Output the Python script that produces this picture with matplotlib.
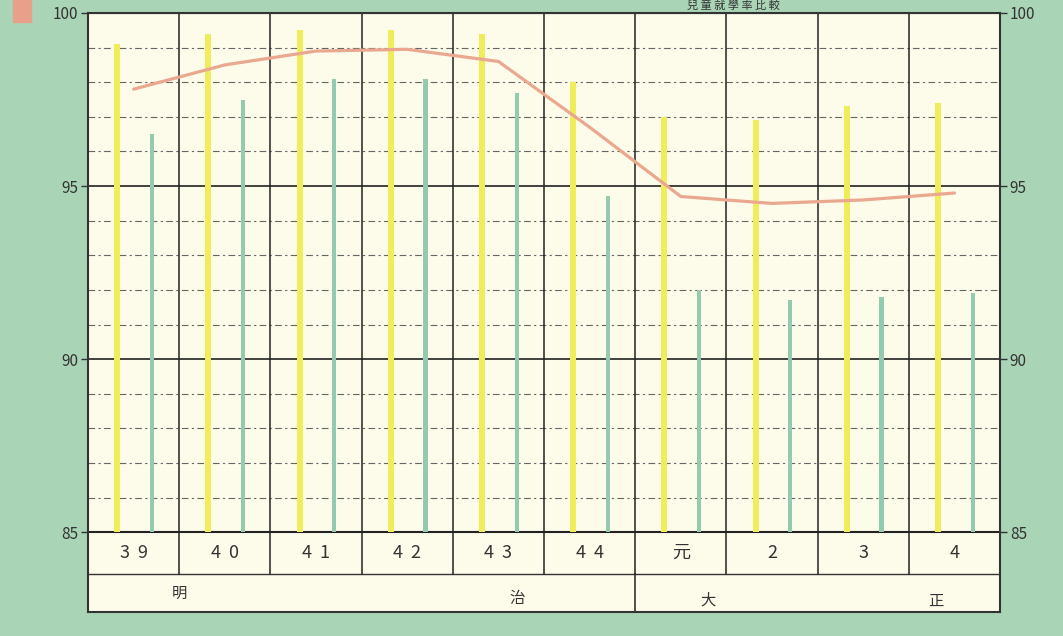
import numpy as np
import matplotlib.pyplot as plt
from matplotlib.patches import Rectangle

plt.rcParams['font.family'] = ['Noto Sans CJK JP', 'DejaVu Sans']

# 年次 (明治39-44, 大正元-4)
years = ['3  9', '4  0', '4  1', '4  2', '4  3', '4  4', '元', '2', '3', '4']
eras = ['明', '治', '大', '正']
# 黄色の棒
yellow = [99.1, 99.4, 99.5, 99.5, 99.4, 98.0, 97.0, 96.9, 97.3, 97.4]
# 緑の棒
green = [96.5, 97.5, 98.1, 98.1, 97.7, 94.7, 92.0, 91.7, 91.8, 91.9]
# 赤線
rate = [97.8, 98.5, 98.9, 98.95, 98.6, 96.7, 94.7, 94.5, 94.6, 94.8]

bg = '#a9d5b6'
paper = '#fdfbe9'

fig = plt.figure(figsize=(10.63, 6.36), dpi=100)
fig.patch.set_facecolor(bg)
ax = fig.add_axes([0.0828, 0.0377, 0.858, 0.9419])
ax.set_facecolor(paper)

x = np.arange(len(years))
ax.set_xlim(-0.5, len(years) - 0.5)
ax.set_ylim(82.7, 100)

# 横の罫線
for v in range(86, 100):
    if v in (90, 95):
        ax.axhline(v, color='#222222', lw=1.2)
    else:
        ax.axhline(v, color='#666666', lw=0.8, ls=(0, (6, 3, 2, 3)))
ax.axhline(100, color='#222222', lw=1.5)
ax.axhline(85, color='#222222', lw=1.5)
ax.axhline(83.8, color='#333333', lw=1.0)

# 縦の罫線
for i in range(1, len(years)):
    ax.plot([i - 0.5, i - 0.5], [83.8, 100], color='#222222', lw=1.1)
ax.plot([5.5, 5.5], [82.7, 83.8], color='#222222', lw=1.1)

# 棒
ax.bar(x - 0.18, np.array(yellow) - 85, bottom=85, width=0.065,
       color='#f0ed5a', zorder=3)
ax.bar(x + 0.2, np.array(green) - 85, bottom=85, width=0.045,
       color='#94cbb0', zorder=3)

# 線
ax.plot(x, rate, color='#eaa890', lw=2.3, zorder=4, solid_capstyle='round')

# 年次の欄
for i, t in enumerate(years):
    ax.text(i, 84.4, t, ha='center', va='center', fontsize=13,
            style='italic', color='#333333')
ax.text(0.5, 83.25, eras[0], ha='center', va='center', fontsize=11, color='#333333')
ax.text(4.2, 83.1, eras[1], ha='center', va='center', fontsize=11, color='#333333')
ax.text(6.3, 83.05, eras[2], ha='center', va='center', fontsize=11, color='#333333')
ax.text(8.8, 83.0, eras[3], ha='center', va='center', fontsize=11, color='#333333')

# 目盛
ax.set_yticks([85, 90, 95, 100])
ax.set_yticklabels(['85', '90', '95', '100'], style='italic', fontsize=11,
                   color='#333333')
ax.tick_params(axis='y', which='both', left=True, right=True, labelleft=True,
               labelright=True, length=5, width=1, color='#333333', pad=2)
ax.set_xticks([])
for s in ax.spines.values():
    s.set_color('#333333')
    s.set_linewidth(1.5)

# 凡例の色見本
fig.patches.append(Rectangle((0.012, 0.966), 0.017, 0.034, transform=fig.transFigure,
                             color='#e8a08a', zorder=5))

# 表題
fig.text(0.69, 0.9995, '兒 童 就 學 率 比 較', ha='center', va='top', fontsize=8,
         color='#333333')

fig.savefig('out.png', dpi=100, facecolor=bg)
